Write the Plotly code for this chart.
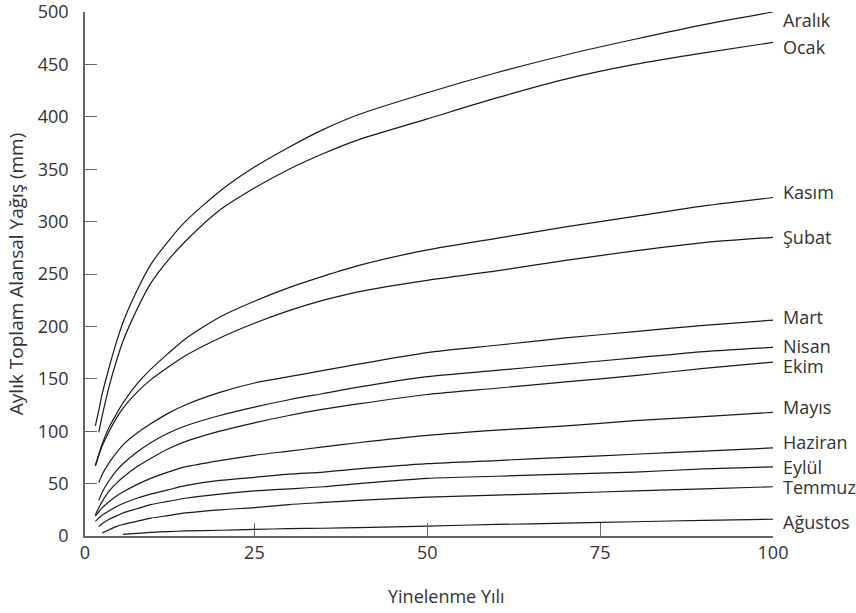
import plotly.graph_objects as go

# Return period grid (years)
x_years = [2, 2.5, 3, 4, 5, 6, 8, 10, 12.5, 15, 20, 25, 30, 35, 40, 50, 60, 70, 80, 90, 100]

months = ["Aralık", "Ocak", "Kasım", "Şubat", "Mart", "Nisan", "Ekim",
          "Mayıs", "Haziran", "Eylül", "Temmuz", "Ağustos"]

aralik = [105, 120, 136, 161, 184, 204, 234, 259, 281, 300, 329, 352, 371, 388, 402, 423, 442, 459, 474, 488, 500]
ocak = [None, 99, 115, 143, 166, 186, 216, 241, 263, 281, 311, 332, 350, 365, 378, 398, 418, 436, 450, 461, 471]
kasim = [67, 78, 88, 104, 116, 127, 145, 159, 174, 188, 209, 224, 237, 248, 258, 273, 284, 295, 305, 315, 323]
subat = [67, 77, 86, 100, 112, 122, 137, 149, 161, 172, 189, 203, 215, 225, 233, 244, 253, 263, 272, 280, 285]
mart = [None, 51, 59, 70, 79, 87, 98, 107, 117, 125, 137, 146, 152, 158, 164, 175, 182, 189, 195, 201, 206]
nisan = [None, 34, 42, 53, 62, 69, 80, 89, 98, 105, 115, 123, 130, 136, 142, 152, 158, 164, 170, 176, 180]
ekim = [20, 27, 33, 43, 50, 56, 66, 74, 83, 90, 100, 108, 115, 121, 126, 135, 141, 147, 153, 160, 166]
mayis = [19, 23, 27, 33, 38, 42, 49, 55, 61, 66, 72, 77, 81, 85, 89, 96, 101, 105, 110, 114, 118]
haziran = [14, 17, 20, 24, 28, 31, 36, 40, 44, 48, 53, 56, 59, 61, 64, 69, 72, 75, 78, 81, 84]
eylul = [None, 9, 12, 16, 19, 22, 26, 30, 33, 36, 40, 43, 45, 47, 50, 55, 57, 59, 61, 64, 66]
temmuz = [None, None, 3, 6, 9, 11, 14, 17, 19.5, 22, 25, 27, 30, 32, 34, 37, 39, 41, 43, 45, 47]
agustos = [None, None, None, None, None, 1.5, 2.5, 3.5, 4.2, 4.8, 5.5, 6.3, 7, 7.4, 8, 9.5, 11, 12.3, 13.6, 15, 16]

series = [aralik, ocak, kasim, subat, mart, nisan, ekim, mayis, haziran, eylul, temmuz, agustos]

x_tick_vals = [0.5, 25, 50, 75, 100]
x_tick_text = ["0", "25", "50", "75", "100"]
y_tick_vals = [0, 50, 100, 150, 200, 250, 300, 350, 400, 450, 500]

# label vertical nudges in pixels (to avoid overlaps)
label_shift = [-8, -5, 6, 0, 3, 1, -4, 5, 6, 0, 0, -3]

FONT = "Open Sans"
TXT = "#333333"
AX = "#666666"

fig = go.Figure()
for name, ys in zip(months, series):
    fig.add_trace(go.Scatter(
        x=x_years, y=ys, mode="lines", name=name,
        line=dict(color="#1a1a1a", width=1.2, shape="spline", smoothing=0.7),
        connectgaps=False, showlegend=False, hoverinfo="x+y+name"))

for name, ys, dy in zip(months, series, label_shift):
    fig.add_annotation(x=100, y=ys[-1], text=name, showarrow=False,
                       xanchor="left", yanchor="middle", xshift=8, yshift=dy,
                       font=dict(family=FONT, size=18, color=TXT))

# axis titles as annotations (positioned like the reference)
fig.add_annotation(text="Yinelenme Yılı", xref="paper", yref="paper",
                   x=0.526, y=-0.115, xanchor="center", yanchor="middle",
                   showarrow=False, font=dict(family=FONT, size=18, color=TXT))
fig.add_annotation(text="Aylık Toplam Alansal Yağış (mm)", xref="paper", yref="paper",
                   x=-0.1, y=0.5, xanchor="center", yanchor="middle", textangle=-90,
                   showarrow=False, font=dict(family=FONT, size=19, color=TXT))

fig.update_layout(
    width=856, height=613,
    margin=dict(l=85, r=83, t=12, b=77),
    plot_bgcolor="white", paper_bgcolor="white",
    font=dict(family=FONT, size=18, color=TXT),
)
fig.update_xaxes(
    range=[0.5, 100], tickmode="array", tickvals=x_tick_vals, ticktext=x_tick_text,
    ticks="inside", ticklen=13, tickcolor=AX, tickwidth=1,
    showline=True, linecolor=AX, linewidth=1.5, showgrid=False, zeroline=False,
    tickfont=dict(family=FONT, size=18, color=TXT), automargin=False,
    ticklabeloverflow="allow",
)
fig.update_yaxes(
    range=[0, 500], tickmode="array", tickvals=y_tick_vals,
    ticks="inside", ticklen=12, tickcolor=AX, tickwidth=1,
    showline=True, linecolor=AX, linewidth=1.5, showgrid=False, zeroline=False,
    tickfont=dict(family=FONT, size=18, color=TXT),
    ticklabelstandoff=11, automargin=False, ticklabeloverflow="allow",
)

fig.write_html("out.html", config={"displayModeBar": False},
               post_script="document.body.style.margin='0';")
